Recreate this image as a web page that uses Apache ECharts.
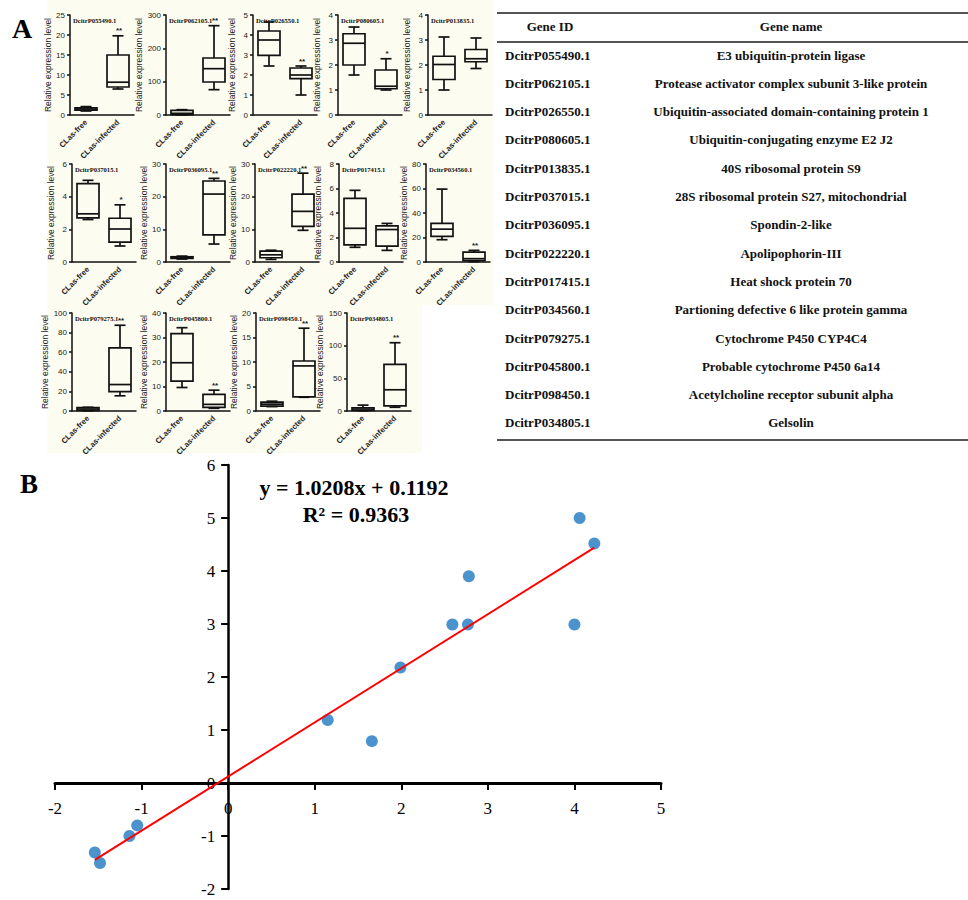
<!DOCTYPE html>
<html><head><meta charset="utf-8">
<script src="https://cdn.jsdelivr.net/npm/echarts@6/dist/echarts.min.js"></script>
<style>html,body{margin:0;padding:0;background:#fff}#c{width:968px;height:900px}</style>
</head><body><div id="c"></div>
<script>
// ---------- DATA ----------
const categories = ['CLas-free', 'CLas-infected'];
const panelIds = ['DcitrP055490.1','DcitrP062105.1','DcitrP026550.1','DcitrP080605.1','DcitrP013835.1',
  'DcitrP037015.1','DcitrP036095.1','DcitrP022220.1','DcitrP017415.1','DcitrP034560.1',
  'DcitrP079275.1','DcitrP045800.1','DcitrP098450.1','DcitrP034805.1'];
const yMax  = [25, 300, 5, 4, 4, 6, 30, 30, 8, 80, 100, 40, 20, 150];
const yStep = [5, 100, 1, 1, 1, 2, 10, 10, 2, 20, 20, 10, 5, 50];
// [min, Q1, median, Q3, max]
const freeBox = [
  [1.0,1.2,1.5,1.8,2.1],[0.5,1,5,14,16],[2.45,2.98,3.75,4.2,4.65],[1.6,2.0,2.87,3.25,3.52],[1.0,1.42,2.02,2.35,3.12],
  [2.6,2.7,2.95,4.8,5.0],[0.9,1.1,1.3,1.6,1.8],[0.8,1.3,2.2,3.3,3.6],[1.2,1.4,2.75,5.2,5.85],[18.2,20.9,26.8,31.5,59.5],
  [0.2,0.5,2.0,3.5,3.8],[9.6,12.2,19.7,31.6,34.0],[0.9,1.0,1.4,1.8,2.0],[0.3,0.8,3.0,5.0,9.0]];
const infectedBox = [
  [6.5,7.0,8.2,15.0,19.8],[76,99,139,171,268],[1.0,1.82,2.0,2.35,2.45],[1.0,1.05,1.15,1.8,2.25],[1.86,2.13,2.25,2.62,3.08],
  [0.98,1.22,2.02,2.68,3.5],[5.5,8.3,20.8,24.8,25.6],[9.7,10.9,15.5,20.8,27.2],[0.95,1.3,2.65,2.95,3.15],[0.3,1.2,2.7,8.0,9.5],
  [15.5,19.7,27.0,64.5,87.5],[1.1,1.5,2.7,6.8,8.5],[2.8,2.9,9.2,10.2,16.9],[5.7,7.7,32.5,71.5,104.5]];
const sigMarks = ['**','**','**','*','','*','**','**','','**','**','**','**','**'];

const geneIds = ['DcitrP055490.1','DcitrP062105.1','DcitrP026550.1','DcitrP080605.1','DcitrP013835.1','DcitrP037015.1',
  'DcitrP036095.1','DcitrP022220.1','DcitrP017415.1','DcitrP034560.1','DcitrP079275.1','DcitrP045800.1','DcitrP098450.1','DcitrP034805.1'];
const geneNames = ['E3 ubiquitin-protein ligase','Protease activator complex subunit 3-like protein',
  'Ubiquitin-associated domain-containing protein 1','Ubiquitin-conjugating enzyme E2 J2','40S ribosomal protein S9',
  '28S ribosomal protein S27, mitochondrial','Spondin-2-like','Apolipophorin-III','Heat shock protein 70',
  'Partioning defective 6 like protein gamma','Cytochrome P450 CYP4C4','Probable cytochrome P450 6a14',
  'Acetylcholine receptor subunit alpha','Gelsolin'];

const scatterX = [4.06, 4.23, 2.78, 2.59, 2.77, 4.00, 1.99, 1.15, 1.66, -1.05, -1.14, -1.54, -1.48];
const scatterY = [5.00, 4.52, 3.90, 2.99, 2.99, 2.99, 2.18, 1.19, 0.79, -0.80, -1.00, -1.31, -1.51];
const fitLineX = [-1.54, 4.23];
const fitLineY = [-1.45, 4.44];
const xRangeB = [-2, 5];
const yRangeB = [-2, 6];
const equationText = 'y = 1.0208x + 0.1192';
const r2Text = 'R\u00B2 = 0.9363';

// ---------- LAYOUT ----------
const gridLefts = [70,166,253,338,428, 72,166,255,339,426, 72,166,256,347];
const rowTops = [15,164,313];
const rowH = [100,98,98];
const plotW = 64;
const boxW = 22;
const rowOf = i => i < 5 ? 0 : (i < 10 ? 1 : 2);
const sans = 'Arial, "Liberation Sans", sans-serif';
const serif = '"Times New Roman", "Liberation Serif", serif';

function makeRender(sig) {
  return function (params, api) {
    const xi = api.value(0);
    const v = [1,2,3,4,5].map(k => api.value(k));
    const p = v.map(val => api.coord([xi, val]));
    const cx = p[0][0], hw = boxW / 2, cw = boxW / 4;
    const st = {stroke: '#111', lineWidth: 1.7, fill: null};
    const kids = [
      {type: 'rect', shape: {x: cx - hw, y: p[3][1], width: boxW, height: p[1][1] - p[3][1]}, style: Object.assign({}, st, {fill: 'rgba(0,0,0,0)'})},
      {type: 'line', shape: {x1: cx - hw, y1: p[2][1], x2: cx + hw, y2: p[2][1]}, style: st},
      {type: 'line', shape: {x1: cx, y1: p[3][1], x2: cx, y2: p[4][1]}, style: st},
      {type: 'line', shape: {x1: cx, y1: p[1][1], x2: cx, y2: p[0][1]}, style: st},
      {type: 'line', shape: {x1: cx - cw, y1: p[4][1], x2: cx + cw, y2: p[4][1]}, style: st},
      {type: 'line', shape: {x1: cx - cw, y1: p[0][1], x2: cx + cw, y2: p[0][1]}, style: st}
    ];
    if (xi === 1 && sig) {
      kids.push({type: 'text', style: {text: sig, x: cx + 1, y: p[4][1] - 1, align: 'center', verticalAlign: 'bottom',
        font: 'bold 8px ' + sans, fill: '#222'}});
    }
    return {type: 'group', children: kids};
  };
}

const grids = [], xAxes = [], yAxes = [], series = [], graphics = [];

// cream background of panel A
graphics.push({type: 'rect', z: -10, silent: true, shape: {x: 47, y: 0, width: 446, height: 305}, style: {fill: '#fcfcf0'}});
graphics.push({type: 'rect', z: -10, silent: true, shape: {x: 47, y: 305, width: 375, height: 148}, style: {fill: '#fcfcf0'}});

panelIds.forEach((id, i) => {
  const r = rowOf(i);
  grids.push({left: gridLefts[i], top: rowTops[r], width: plotW, height: rowH[r], containLabel: false, outerBoundsMode: 'none'});
  xAxes.push({type: 'category', gridIndex: i, data: categories, boundaryGap: true,
    axisLine: {lineStyle: {color: '#111', width: 1.5}},
    axisTick: {alignWithLabel: true, length: 3, lineStyle: {color: '#111', width: 1.5}},
    axisLabel: {rotate: 45, interval: 0, fontSize: 7.8, fontWeight: 'bold', fontFamily: sans, color: '#222', margin: 6}});
  yAxes.push({type: 'value', gridIndex: i, min: 0, max: yMax[i], interval: yStep[i],
    name: 'Relative expression level', nameLocation: 'middle', nameGap: 17,
    nameTextStyle: {fontSize: 8.5, fontFamily: sans, color: '#222'},
    axisLine: {show: true, lineStyle: {color: '#111', width: 1.5}},
    axisTick: {show: true, length: 3, lineStyle: {color: '#111', width: 1.5}},
    splitLine: {show: false},
    axisLabel: {fontSize: 8, fontFamily: sans, color: '#222', margin: 5}});
  series.push({type: 'custom', xAxisIndex: i, yAxisIndex: i, renderItem: makeRender(sigMarks[i]),
    encode: {x: 0, y: [1,2,3,4,5]}, silent: true,
    data: [[0].concat(freeBox[i]), [1].concat(infectedBox[i])]});
  graphics.push({type: 'text', z: 10, style: {text: id, x: gridLefts[i] + 3, y: rowTops[r] + 2,
    font: 'bold 6.6px ' + serif, fill: '#111'}});
});

// ---------- Panel B ----------
const bL = 55, bT = 465, bW = 606, bH = 424;
const pxX = bW / (xRangeB[1] - xRangeB[0]);
const pxY = bH / (yRangeB[1] - yRangeB[0]);
const hiddenAxis = {show: false, axisLine: {show: false}, axisTick: {show: false}, axisLabel: {show: false}, splitLine: {show: false}};
const bLabel = {fontFamily: serif, fontSize: 17, color: '#000'};

// data grid (axes hidden)
const gData = grids.length;
grids.push({left: bL, top: bT, width: bW, height: bH, containLabel: false, outerBoundsMode: 'none'});
xAxes.push(Object.assign({type: 'value', gridIndex: gData, min: xRangeB[0], max: xRangeB[1]}, hiddenAxis));
yAxes.push(Object.assign({type: 'value', gridIndex: gData, min: yRangeB[0], max: yRangeB[1]}, hiddenAxis));

// x-axis grid: spans from top down to y = 0, so its bottom axis sits on zero
const gX = grids.length;
grids.push({left: bL, top: bT, width: bW, height: yRangeB[1] * pxY, containLabel: false, outerBoundsMode: 'none'});
xAxes.push({type: 'value', gridIndex: gX, min: xRangeB[0], max: xRangeB[1], interval: 1, position: 'bottom',
  axisLine: {onZero: false, lineStyle: {color: '#000', width: 3}},
  axisTick: {show: true, length: 7, lineStyle: {color: '#000', width: 2}},
  splitLine: {show: false}, axisLabel: Object.assign({margin: 17}, bLabel)});
yAxes.push(Object.assign({type: 'value', gridIndex: gX, min: 0, max: yRangeB[1]}, hiddenAxis));

// y-axis grid: starts at x = 0
const gY = grids.length;
grids.push({left: bL - xRangeB[0] * pxX, top: bT, width: xRangeB[1] * pxX, height: bH, containLabel: false, outerBoundsMode: 'none'});
xAxes.push(Object.assign({type: 'value', gridIndex: gY, min: 0, max: xRangeB[1]}, hiddenAxis));
yAxes.push({type: 'value', gridIndex: gY, min: yRangeB[0], max: yRangeB[1], interval: 1, position: 'left',
  axisLine: {onZero: false, lineStyle: {color: '#000', width: 2.5}},
  axisTick: {show: true, length: 7, lineStyle: {color: '#000', width: 2}},
  splitLine: {show: false}, axisLabel: Object.assign({margin: 13}, bLabel)});

series.push({type: 'scatter', xAxisIndex: gData, yAxisIndex: gData, symbolSize: 12, z: 3,
  itemStyle: {color: '#1f78c1'}, data: scatterX.map((x, k) => [x, scatterY[k]])});
series.push({type: 'line', xAxisIndex: gData, yAxisIndex: gData, symbol: 'none', z: 4,
  lineStyle: {color: '#ff0000', width: 2}, data: fitLineX.map((x, k) => [x, fitLineY[k]])});

graphics.push({type: 'text', style: {text: equationText, x: 354, y: 487, align: 'center', verticalAlign: 'middle', font: 'bold 22px ' + serif, fill: '#000'}});
graphics.push({type: 'text', style: {text: r2Text, x: 356, y: 514, align: 'center', verticalAlign: 'middle', font: 'bold 22px ' + serif, fill: '#000'}});

// Panel letters
graphics.push({type: 'text', style: {text: 'A', x: 12, y: 28, verticalAlign: 'middle', font: 'bold 28px ' + serif, fill: '#000'}});
graphics.push({type: 'text', style: {text: 'B', x: 20, y: 484, verticalAlign: 'middle', font: 'bold 27px ' + serif, fill: '#000'}});

// Table
const tL = 497, tR = 968;
[13, 42, 440].forEach(yy => graphics.push({type: 'line', shape: {x1: tL, y1: yy, x2: tR, y2: yy}, style: {stroke: '#555', lineWidth: 2}}));
graphics.push({type: 'text', style: {text: 'Gene ID', x: 550, y: 26, align: 'center', verticalAlign: 'middle', font: 'bold 13px ' + serif, fill: '#111'}});
graphics.push({type: 'text', style: {text: 'Gene name', x: 791, y: 26, align: 'center', verticalAlign: 'middle', font: 'bold 13px ' + serif, fill: '#111'}});
geneIds.forEach((g, k) => {
  const yy = 55 + k * 28.3;
  graphics.push({type: 'text', style: {text: g, x: 505, y: yy, verticalAlign: 'middle', font: 'bold 13px ' + serif, fill: '#111'}});
  graphics.push({type: 'text', style: {text: geneNames[k], x: 791, y: yy, align: 'center', verticalAlign: 'middle', font: 'bold 13px ' + serif, fill: '#111'}});
});

const chart = echarts.init(document.getElementById('c'), null, {renderer: 'svg'});
chart.setOption({
  animation: false,
  backgroundColor: '#fff',
  grid: grids, xAxis: xAxes, yAxis: yAxes, series: series,
  graphic: {elements: graphics}
});
</script></body></html>
